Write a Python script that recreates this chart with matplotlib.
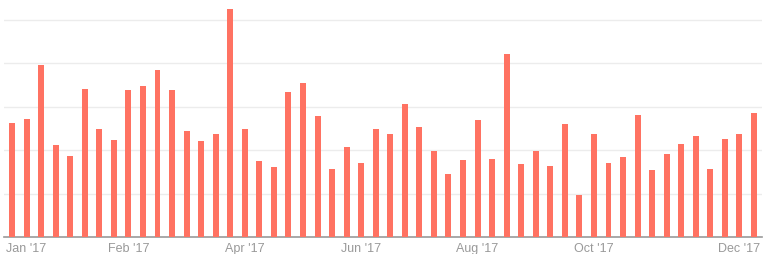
import numpy as np
import matplotlib.pyplot as plt

plt.rcParams['font.family'] = ['Liberation Sans', 'DejaVu Sans']

# weekly counts for 2017
values = [26.3, 27.2, 39.6, 21.2, 18.7, 34.1, 24.9, 22.4, 33.9, 34.8,
          38.5, 33.9, 24.4, 22.1, 23.7, 52.5, 24.9, 17.5, 16.1, 33.4,
          35.5, 27.9, 15.7, 20.7, 17.1, 24.9, 23.7, 30.6, 25.3, 19.8,
          14.5, 17.7, 27.0, 18.0, 42.2, 16.8, 19.8, 16.4, 26.0, 9.7,
          23.7, 17.1, 18.4, 28.1, 15.4, 19.1, 21.4, 23.3, 15.7, 22.6,
          23.7, 28.6]
tick_idx = [1, 8, 16, 24, 32, 40, 50]
tick_labels = ["Jan '17", "Feb '17", "Apr '17", "Jun '17", "Aug '17", "Oct '17", "Dec '17"]
grid_vals = [10, 20, 30, 40, 50]

fig = plt.figure(figsize=(7.71, 2.55), dpi=100)
ax = fig.add_axes([4 / 771, 17 / 255, 758 / 771, 238 / 255])

x = np.arange(len(values))
ax.bar(x, values, width=0.41, color='#ff7262', zorder=3)

ax.set_xlim(-0.55, len(values) - 0.45)
ax.set_ylim(0, 54.8)

for g in grid_vals:
    ax.axhline(g, color='#ececec', lw=1, zorder=1)

for s in ['top', 'right', 'left']:
    ax.spines[s].set_visible(False)
ax.spines['bottom'].set_color('#999999')
ax.spines['bottom'].set_linewidth(1.2)

ax.set_yticks([])
ax.set_xticks(tick_idx)
ax.set_xticklabels(tick_labels, color='#999999', fontsize=9)
ax.tick_params(axis='x', length=0, pad=3.5)

fig.savefig('out.png', dpi=100)
